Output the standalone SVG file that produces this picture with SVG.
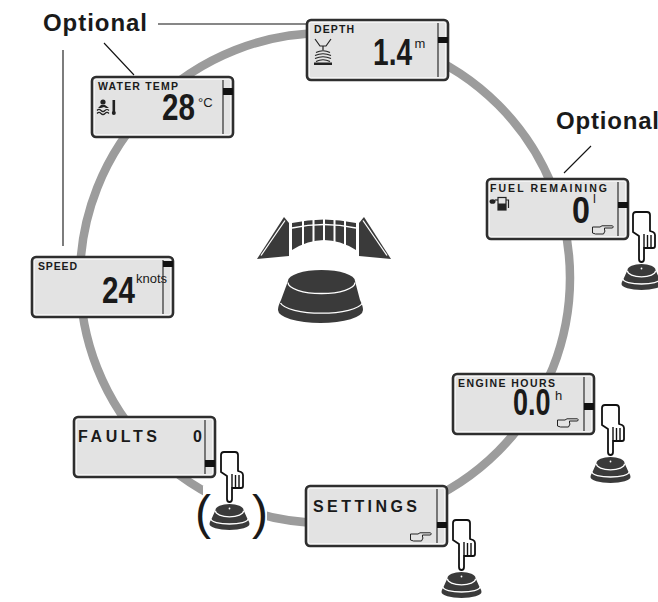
<svg xmlns="http://www.w3.org/2000/svg" xmlns:xlink="http://www.w3.org/1999/xlink" width="658" height="602" viewBox="0 0 658 602">
<style>
  .lcd{fill:#e3e3e3;stroke:#2e2e2e;stroke-width:2.6}
  .bez{fill:none;stroke:#f8f8f8;stroke-width:1}
  .div{stroke:#2e2e2e;stroke-width:1.2}
  .ind{fill:#111}
  .lbl{font-family:"Liberation Sans",Arial,sans-serif;font-weight:bold;font-size:10.5px;fill:#1a1a1a}
  .big{font-family:"Liberation Sans",Arial,sans-serif;font-weight:bold;font-size:37px;fill:#1a1a1a}
  .unit{font-family:"Liberation Sans",Arial,sans-serif;font-size:13px;fill:#1a1a1a}
  .menu{font-family:"Liberation Sans",Arial,sans-serif;font-weight:bold;font-size:16px;fill:#1a1a1a}
  .opt{font-family:"Liberation Sans",Arial,sans-serif;font-weight:bold;font-size:24px;fill:#1a1a1a}
  .paren{font-family:"Liberation Sans",Arial,sans-serif;font-size:48px;fill:#1a1a1a}
  .lead{stroke:#111;stroke-width:1.1;fill:none}
  .ring{fill:none;stroke:#9c9c9c;stroke-width:8.5}
  .ico{fill:none;stroke:#222;stroke-width:1.2}
  .knob{fill:#3a3a3a}
  .hl{fill:none;stroke:#fff;stroke-width:1.3}
  .hand{fill:#fff;stroke:#111;stroke-width:1.8;stroke-linejoin:round}
  .ptr{fill:#e3e3e3;stroke:#222;stroke-width:1}
</style>
<defs>
  <!-- LCD frame shared by every screen -->
  <g id="frame">
    <rect class="lcd" x="0" y="0" width="141" height="60" rx="4"/>
    <rect class="bez" x="2.3" y="2.3" width="136.4" height="55.4" rx="2"/>
    <line class="div" x1="131" y1="3" x2="131" y2="57"/>
  </g>
  <!-- small right-pointing hand shown on screens -->
  <path id="ptr" class="ptr" d="M0.5,2 L8,2 L10,0.8 L20.5,0.8 Q22,1.8 20.5,3 L12.5,3 L12.5,5 Q13.5,6 12.5,7 L11.5,9 L3.5,9 L0.5,8 Z"/>
  <!-- finger pressing the push button -->
  <g id="press">
    <path class="hand" d="M0,3 Q0,0 3,0 L14,0 Q17,0 17,3 L17,19 L20,20 Q22,21 22,23 L22,34 Q22,36 20,36 L11,36 L11,47 Q11,50 8.5,50 Q6,50 6,47 L6,24 L0,20 Z"/>
    <path fill="none" stroke="#111" stroke-width="1.4" d="M11,22 V36 M14.5,23 V36 M18,23 V36"/>
    <g transform="translate(8.5,52)">
      <path class="knob" d="M-14,6 A14,6 0 0 1 14,6 L18,15 Q20,18 20,20 A20,6 0 0 1 -20,20 Q-20,18 -18,15 Z"/>
      <path class="hl" d="M-14,6.8 A14,6 0 0 0 14,6.8"/>
      <path class="hl" d="M-18.5,15 A18.5,5 0 0 0 18.5,15"/>
      <circle cx="0" cy="4.5" r="0.9" fill="#fff"/>
    </g>
  </g>
</defs>

<rect width="658" height="602" fill="#fff"/>

<g id="connectors">
  <circle class="ring" cx="325" cy="278" r="245"/>
  <line class="lead" x1="158" y1="24" x2="306" y2="24"/>
  <line class="lead" x1="104" y1="43" x2="134" y2="75"/>
  <line class="lead" x1="63" y1="50" x2="63" y2="246"/>
  <line class="lead" x1="591" y1="146" x2="564" y2="173"/>
</g>

<g id="optional-labels">
  <text class="opt" x="43" y="31" textLength="104" lengthAdjust="spacing">Optional</text>
  <text class="opt" x="556" y="129" textLength="103" lengthAdjust="spacing">Optional</text>
</g>

<!-- central rotary knob with turn arrows -->
<g id="knob">
  <path class="knob" d="M257,259 L284,217 L289,223 L289,256 Z"/>
  <line class="hl" x1="261" y1="255.5" x2="285" y2="220.5"/>
  <path class="knob" d="M391,259 L364,217 L359,223 L359,256 Z"/>
  <line class="hl" x1="387" y1="255.5" x2="363" y2="220.5"/>
  <path class="knob" d="M292,223 Q324,216 356,223 L356,250 Q324,230 292,250 Z"/>
  <path class="hl" d="M292,228 Q324,221 356,228"/>
  <path stroke="#fff" stroke-width="2" d="M303,215 V252 M313.5,215 V252 M324,215 V252 M334.5,215 V252 M345,215 V252"/>
  <path class="knob" d="M288,281 A33.5,11 0 0 1 355,281 L360,300 Q363,306 363,310 A42.5,13 0 0 1 278,310 Q278,306 281,300 Z"/>
  <path class="hl" stroke-width="1.6" d="M288,282.5 A33.5,11 0 0 0 355,282.5"/>
  <path class="hl" stroke-width="1.6" d="M280.5,303 A41.5,12 0 0 0 362.5,303"/>
</g>

<g id="depth" transform="translate(307,20)">
  <use href="#frame"/>
  <rect class="ind" x="131" y="17" width="10" height="6"/>
  <text class="lbl" x="7" y="13" textLength="40" lengthAdjust="spacing">DEPTH</text>
  <path class="ico" stroke-width="1.4" d="M8,19 L13,26 L19,26 L24,19 M16,26 V30"/>
  <path class="ico" d="M9,32.5 Q16,29 23,32.5 M8,35.5 Q16,32 24,35.5 M8,38.5 Q16,35 24,38.5 M9,41.5 Q16,38 23,41.5"/>
  <rect x="7" y="42.5" width="18" height="2.5" fill="#222"/>
  <text class="big" transform="translate(66,45) scale(0.76,1)">1.4</text>
  <text class="unit" x="107.5" y="28" font-size="15">m</text>
</g>

<g id="water-temp" transform="translate(92,77)">
  <use href="#frame"/>
  <rect class="ind" x="131" y="11" width="10" height="7"/>
  <text class="lbl" x="6" y="13" textLength="80" lengthAdjust="spacing">WATER TEMP</text>
  <circle cx="11" cy="25" r="2.6" fill="#222"/>
  <path fill="#222" d="M6,31 L9,28 L13,28 L17,31 L14,31 L12,30 L9,31 Z"/>
  <path class="ico" d="M5,33.5 q2,-2 4,0 t4,0 t4,0 M5,36.5 q2,-2 4,0 t4,0 t4,0"/>
  <rect x="20.5" y="23" width="2.6" height="13" fill="#222"/>
  <circle cx="21.8" cy="36" r="2" fill="#222"/>
  <text class="big" transform="translate(70,43) scale(0.8,1)">28</text>
  <text class="unit" x="106" y="30" font-size="14">°C</text>
</g>

<g id="fuel-remaining" transform="translate(487,179)">
  <use href="#frame"/>
  <rect class="ind" x="131" y="23" width="10" height="6"/>
  <text class="lbl" x="3" y="13" textLength="117" lengthAdjust="spacing">FUEL REMAINING</text>
  <rect x="11" y="18.5" width="8" height="12.5" fill="none" stroke="#222" stroke-width="1.2"/>
  <rect x="11" y="24.5" width="8" height="6.5" fill="#222"/>
  <path class="ico" d="M19,21 H21.5 V29"/>
  <path class="ico" d="M11,21 H8"/>
  <ellipse cx="5.5" cy="22.5" rx="3" ry="2.3" fill="#222"/>
  <text class="big" transform="translate(85,44) scale(0.87,1)">0</text>
  <text class="unit" x="106" y="24" font-size="12">l</text>
  <use href="#ptr" x="105" y="46"/>
</g>

<g id="speed" transform="translate(32,257)">
  <use href="#frame"/>
  <rect class="ind" x="131" y="4" width="10" height="6"/>
  <text class="lbl" x="6" y="13" textLength="39" lengthAdjust="spacing">SPEED</text>
  <text class="big" transform="translate(70,46) scale(0.8,1)">24</text>
  <text class="unit" x="104" y="26" font-size="11">knots</text>
</g>

<g id="engine-hours" transform="translate(453,374)">
  <use href="#frame"/>
  <rect class="ind" x="131" y="29" width="10" height="7"/>
  <text class="lbl" x="5" y="13" textLength="97" lengthAdjust="spacing">ENGINE HOURS</text>
  <text class="big" transform="translate(60,41) scale(0.73,1)">0.0</text>
  <text class="unit" x="102" y="26">h</text>
  <use href="#ptr" x="104" y="44"/>
</g>

<g id="faults" transform="translate(74,417)">
  <use href="#frame"/>
  <rect class="ind" x="131" y="43" width="10" height="7"/>
  <text class="menu" x="4" y="25" textLength="79" lengthAdjust="spacing">FAULTS</text>
  <text class="menu" x="119" y="25">0</text>
</g>

<g id="settings" transform="translate(306,486)">
  <use href="#frame"/>
  <rect class="ind" x="131" y="36" width="10" height="6"/>
  <text class="menu" x="7" y="26" textLength="104" lengthAdjust="spacing">SETTINGS</text>
  <use href="#ptr" x="104" y="46"/>
</g>

<g id="press-fuel"><use href="#press" x="633" y="212"/></g>
<g id="press-engine"><use href="#press" x="602" y="405"/></g>
<g id="press-faults">
  <rect x="203" y="486" width="64" height="56" fill="#fff"/>
  <use href="#press" x="221" y="452"/>
  <text class="paren" x="195" y="529">(</text>
  <text class="paren" x="252" y="529">)</text>
</g>
<g id="press-settings"><use href="#press" x="453" y="520"/></g>
</svg>
